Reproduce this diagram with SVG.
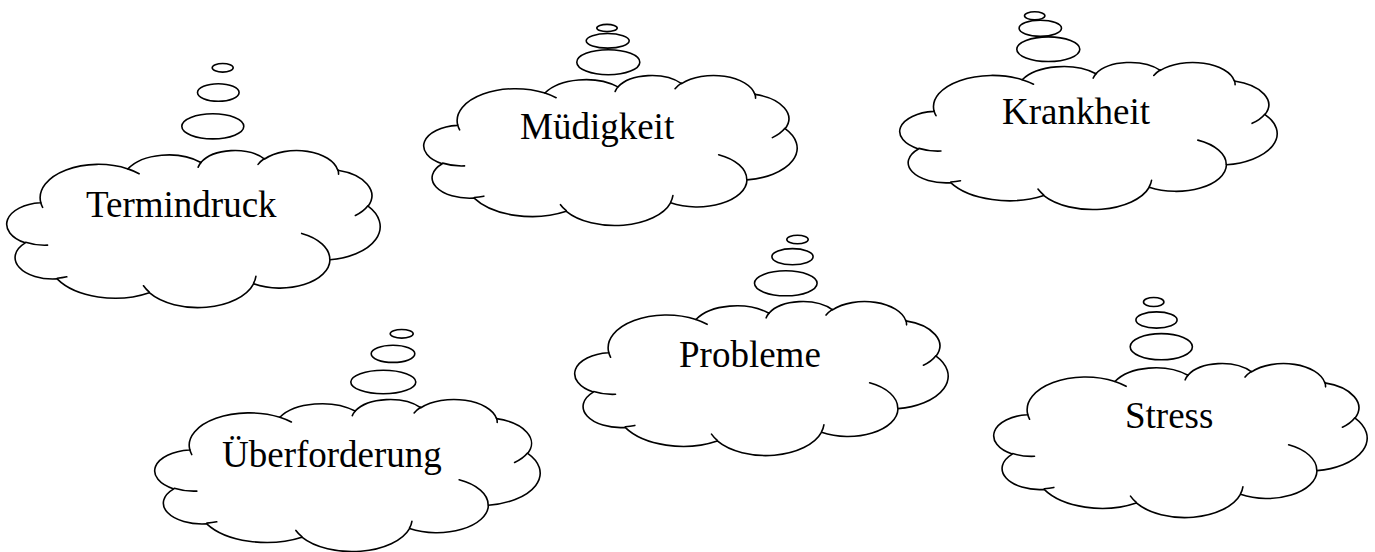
<svg xmlns="http://www.w3.org/2000/svg" xmlns:xlink="http://www.w3.org/1999/xlink" width="1375" height="552" viewBox="0 0 1375 552">
<style>
.ol{fill:#fff;stroke:#000;stroke-width:1.6;vector-effect:non-scaling-stroke;stroke-linejoin:round}
.cr{fill:none;stroke:#000;stroke-width:1.6;vector-effect:non-scaling-stroke;stroke-linecap:round}
.bub{fill:#fff;stroke:#000;stroke-width:1.6}
.lbl{font-family:"Liberation Serif","Times New Roman",serif;font-size:37px;fill:#000}
</style>
<defs>
<path id="cloud" class="ol" d="M 3900 14370 A 6753 9190 0 0 1 14005 5202 A 5333 7267 0 0 1 22456 3432 A 4365 5945 0 0 1 29833 2481 A 4857 6595 0 0 1 38318 5576 A 5333 7273 0 0 1 41819 15460 A 6775 9220 0 0 1 37405 30203 A 5785 7867 0 0 1 28557 36813 A 6752 9215 0 0 1 16481 39264 A 7720 10543 0 0 1 5806 35470 A 4360 5918 0 0 1 2114 25548 A 4345 5945 0 0 1 3864 14505 Z"/>
<path id="creases" class="cr" d="M 4693 26177 A 4345 5945 0 0 1 2160 25380 M 6928 34899 A 4360 5918 0 0 1 5820 35280 M 16478 39090 A 6752 9215 0 0 1 15810 37350 M 28827 34751 A 6752 9215 0 0 1 28560 36660 M 34129 22954 A 5785 7867 0 0 1 37380 30090 M 41798 15354 A 5333 7273 0 0 1 40350 18030 M 38324 5426 A 4857 6595 0 0 1 38400 6690 M 29078 3952 A 4857 6595 0 0 1 29820 2340 M 22141 4720 A 4365 5945 0 0 1 22500 3330 M 14000 5192 A 6753 9190 0 0 1 15300 6540 M 4127 15789 A 6753 9190 0 0 1 3900 14370"/>
</defs>
<g id="connectors"></g>
<g id="node-termindruck">
<ellipse class="bub" cx="222.7" cy="67.8" rx="10.5" ry="4.3"/>
<ellipse class="bub" cx="218.3" cy="92.5" rx="20.8" ry="8.8"/>
<ellipse class="bub" cx="212.8" cy="126.3" rx="31" ry="12.6"/>
<g transform="translate(7,150) scale(0.0086343,0.0036343)"><use xlink:href="#cloud"/><use xlink:href="#creases"/></g>
<text class="lbl" x="86" y="217">Termindruck</text>
</g>
<g id="node-muedigkeit">
<ellipse class="bub" cx="607" cy="28" rx="10.2" ry="3.6"/>
<ellipse class="bub" cx="607.7" cy="40.8" rx="21.5" ry="7.3"/>
<ellipse class="bub" cx="608.3" cy="62.2" rx="31.5" ry="12.5"/>
<g transform="translate(424,75) scale(0.0086343,0.0034722)"><use xlink:href="#cloud"/><use xlink:href="#creases"/></g>
<text class="lbl" x="520" y="139">Müdigkeit</text>
</g>
<g id="node-krankheit">
<ellipse class="bub" cx="1034.7" cy="15.8" rx="10.2" ry="4"/>
<ellipse class="bub" cx="1040.3" cy="28.3" rx="21.2" ry="8.1"/>
<ellipse class="bub" cx="1048.3" cy="49.2" rx="31.5" ry="12.3"/>
<g transform="translate(900,62) scale(0.0087269,0.0034028)"><use xlink:href="#cloud"/><use xlink:href="#creases"/></g>
<text class="lbl" x="1002" y="124">Krankheit</text>
</g>
<g id="node-ueberforderung">
<ellipse class="bub" cx="401.7" cy="333.8" rx="11.5" ry="4.3"/>
<ellipse class="bub" cx="393" cy="353.8" rx="21.8" ry="8.6"/>
<ellipse class="bub" cx="383.3" cy="382" rx="32.5" ry="11.8"/>
<g transform="translate(155,399) scale(0.0089120,0.0035185)"><use xlink:href="#cloud"/><use xlink:href="#creases"/></g>
<text class="lbl" x="222" y="467">Überforderung</text>
</g>
<g id="node-probleme">
<ellipse class="bub" cx="797.5" cy="239.5" rx="10.7" ry="4.3"/>
<ellipse class="bub" cx="792.5" cy="256.7" rx="20.6" ry="8.1"/>
<ellipse class="bub" cx="785.8" cy="283.3" rx="31.3" ry="12.5"/>
<g transform="translate(575,301) scale(0.0086343,0.0035648)"><use xlink:href="#cloud"/><use xlink:href="#creases"/></g>
<text class="lbl" x="679" y="367">Probleme</text>
</g>
<g id="node-stress">
<ellipse class="bub" cx="1153.7" cy="302" rx="10.2" ry="4.5"/>
<ellipse class="bub" cx="1156.5" cy="320" rx="20.6" ry="8.1"/>
<ellipse class="bub" cx="1161.3" cy="346.7" rx="31.1" ry="13.1"/>
<g transform="translate(994,363) scale(0.0086343,0.0035648)"><use xlink:href="#cloud"/><use xlink:href="#creases"/></g>
<text class="lbl" x="1125" y="428">Stress</text>
</g>
</svg>
